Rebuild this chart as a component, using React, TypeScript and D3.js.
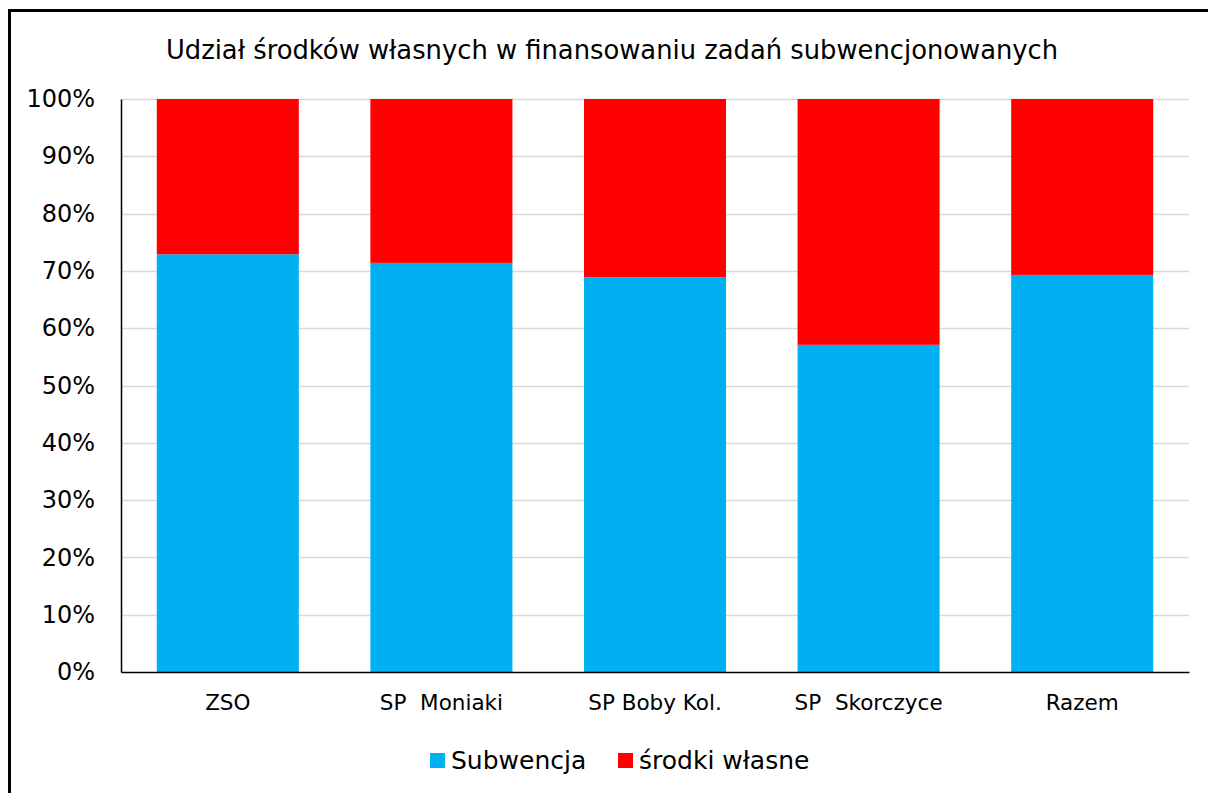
import React, { useEffect, useRef } from "react";
import * as d3 from "d3";

const categories = ["ZSO", "SP  Moniaki", "SP Boby Kol.", "SP  Skorczyce", "Razem"];
const subwencja = [72.9, 71.4, 68.9, 57.1, 69.3];
const srodkiWlasne = [27.1, 28.6, 31.1, 42.9, 30.7];
const yTicks = [0, 10, 20, 30, 40, 50, 60, 70, 80, 90, 100];
const seriesNames = ["Subwencja", "środki własne"];
const colors = ["#00b0f0", "#ff0000"];

const W = 1208;
const H = 793;
const FONT = "Tahoma, 'DejaVu Sans', sans-serif";

const App = () => {
  const svgRef = useRef<SVGSVGElement>(null);

  useEffect(() => {
    const margin = { top: 99, right: 19, bottom: 121, left: 121 };
    const width = W - margin.left - margin.right;
    const height = H - margin.top - margin.bottom;

    const root = d3.select(svgRef.current);
    root.selectAll("*").remove();

    // outer frame (only left and top edges are inside the picture)
    root
      .append("path")
      .attr("d", `M9.5,${H + 10}V10.5H${W + 10}`)
      .attr("fill", "none")
      .attr("stroke", "#000")
      .attr("stroke-width", 3);

    root
      .append("text")
      .attr("x", 612)
      .attr("y", 59)
      .attr("text-anchor", "middle")
      .attr("font-family", FONT)
      .attr("font-size", 25.8)
      .attr("fill", "#000")
      .text("Udział środków własnych w finansowaniu zadań subwencjonowanych");

    const svg = root.append("g").attr("transform", `translate(${margin.left},${margin.top})`);

    const x = d3.scaleBand().domain(categories).range([0, width]).paddingInner(0.335).paddingOuter(0.1675);
    const y = d3.scaleLinear().domain([0, 100]).range([height, 0]);

    // gridlines
    svg
      .append("g")
      .selectAll("line")
      .data(yTicks.filter((t) => t > 0))
      .join("line")
      .attr("x1", 0)
      .attr("x2", width)
      .attr("y1", (d) => Math.round(y(d)) + 0.5)
      .attr("y2", (d) => Math.round(y(d)) + 0.5)
      .attr("stroke", "#d9d9d9")
      .attr("stroke-width", 1.5);

    const rows = categories.map((c, i) => ({ c, a: subwencja[i], b: srodkiWlasne[i] }));

    svg
      .append("g")
      .selectAll("rect")
      .data(rows)
      .join("rect")
      .attr("x", (d) => x(d.c)!)
      .attr("width", x.bandwidth())
      .attr("y", (d) => y(d.a))
      .attr("height", (d) => y(0) - y(d.a))
      .attr("fill", colors[0]);

    svg
      .append("g")
      .selectAll("rect")
      .data(rows)
      .join("rect")
      .attr("x", (d) => x(d.c)!)
      .attr("width", x.bandwidth())
      .attr("y", (d) => y(d.a + d.b))
      .attr("height", (d) => y(d.a) - y(d.a + d.b))
      .attr("fill", colors[1]);

    // y axis
    const yAxis = svg
      .append("g")
      .call(d3.axisLeft(y).tickValues(yTicks).tickSize(0).tickPadding(26).tickFormat((d) => `${d}%`));
    yAxis.select(".domain").attr("stroke", "#000").attr("stroke-width", 1.5);
    yAxis.selectAll("text").attr("font-family", FONT).attr("font-size", 24).attr("fill", "#000");

    // x axis
    const xAxis = svg
      .append("g")
      .attr("transform", `translate(0,${height})`)
      .call(d3.axisBottom(x).tickSize(0).tickPadding(23));
    xAxis.select(".domain").attr("stroke", "#000").attr("stroke-width", 1.5);
    xAxis
      .selectAll("text")
      .attr("font-family", FONT)
      .attr("font-size", 21.5)
      .attr("fill", "#000")
      .style("white-space", "pre");

    // legend
    const legend = root.append("g").attr("transform", "translate(430,760)");
    const offsets = [0, 188];
    seriesNames.forEach((name, i) => {
      const g = legend.append("g").attr("transform", `translate(${offsets[i]},0)`);
      g.append("rect").attr("x", 0).attr("y", -7).attr("width", 15).attr("height", 15).attr("fill", colors[i]);
      g.append("text")
        .attr("x", 21)
        .attr("y", 0)
        .attr("dy", "0.35em")
        .attr("font-family", FONT)
        .attr("font-size", 25)
        .attr("fill", "#000")
        .text(name);
    });
  }, []);

  return (
    <svg
      ref={svgRef}
      width={W}
      height={H}
      style={{ position: "absolute", left: 0, top: 0, display: "block" }}
    ></svg>
  );
};

export default App;
